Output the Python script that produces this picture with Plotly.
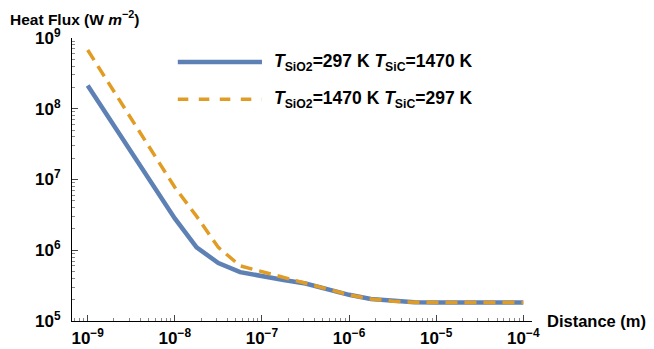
"""
Flujo de calor vs distancia (escala log-log)
"""

import plotly.graph_objects as go

# distancia: 4 puntos por década, de 1e-9 a 1e-4 m
exponentes = [-9 + k / 4 for k in range(21)]
distancia = [10 ** e for e in exponentes]

# log10 del flujo de calor
log_flujo_sio2_frio = [8.33, 7.86, 7.39, 6.92, 6.45, 6.04, 5.82, 5.69, 5.63, 5.58,
                       5.53, 5.45, 5.37, 5.31, 5.28, 5.265, 5.26, 5.26, 5.26, 5.26, 5.26]
log_flujo_sio2_caliente = [8.83, 8.34, 7.86, 7.37, 6.89, 6.48, 6.04, 5.78, 5.70, 5.61,
                           5.54, 5.45, 5.37, 5.31, 5.28, 5.265, 5.26, 5.26, 5.26, 5.26, 5.26]

flujo_sio2_frio = [10 ** v for v in log_flujo_sio2_frio]
flujo_sio2_caliente = [10 ** v for v in log_flujo_sio2_caliente]

etiquetas = ['<i>T</i><sub>SiO2</sub>=297 K <i>T</i><sub>SiC</sub>=1470 K',
             '<i>T</i><sub>SiO2</sub>=1470 K <i>T</i><sub>SiC</sub>=297 K']

x_ticks = [1e-9, 1e-8, 1e-7, 1e-6, 1e-5, 1e-4]
x_ticktext = ['10<sup>−9</sup>', '10<sup>−8</sup>', '10<sup>−7</sup>',
              '10<sup>−6</sup>', '10<sup>−5</sup>', '10<sup>−4</sup>']
y_ticks = [1e5, 1e6, 1e7, 1e8, 1e9]
y_ticktext = ['10<sup>5</sup>', '10<sup>6</sup>', '10<sup>7</sup>',
              '10<sup>8</sup>', '10<sup>9</sup>']

AZUL = '#5E81B5'
NARANJA = '#E19C24'
FUENTE = dict(family='Liberation Sans', size=17, color='black', weight='bold')
FUENTE_LEY = dict(FUENTE, size=17.5)

fig = go.Figure()

fig.add_trace(go.Scatter(
    x=distancia, y=flujo_sio2_frio, mode='lines', name=etiquetas[0],
    line=dict(color=AZUL, width=4.5)
))
fig.add_trace(go.Scatter(
    x=distancia, y=flujo_sio2_caliente, mode='lines', name=etiquetas[1],
    line=dict(color=NARANJA, width=3.5, dash='12px,7px')
))

eje = dict(
    type='log', showgrid=False, zeroline=False, showline=True, automargin=False,
    linecolor='black', linewidth=1, ticks='inside', ticklen=6,
    tickcolor='#444', tickfont=FUENTE,
    minor=dict(ticks='inside', ticklen=3, tickcolor='#888', dtick='D1'),
)

fig.update_xaxes(eje, range=[-9.18, -3.9], tickvals=x_ticks, ticktext=x_ticktext,
                 ticklabelstandoff=2)
fig.update_yaxes(eje, range=[5, 9.0], tickvals=y_ticks, ticktext=y_ticktext,
                 ticklabelstandoff=7)

# leyenda dibujada a mano (muestras de línea largas)
for i, (color, dash, ancho) in enumerate([(AZUL, 'solid', 4.5), (NARANJA, 'dash', 3.5)]):
    yy = [0.915, 0.784][i]
    fig.add_shape(type='line', xref='paper', yref='paper',
                  x0=0.230, x1=0.413, y0=yy, y1=yy,
                  line=dict(color=color, width=ancho, dash=dash))
    fig.add_annotation(xref='paper', yref='paper', x=0.435, y=yy,
                       xanchor='left', yanchor='middle', showarrow=False,
                       text=etiquetas[i], font=FUENTE_LEY)

fig.add_annotation(xref='paper', yref='paper', x=-0.139, y=1.071,
                   xanchor='left', yanchor='middle', showarrow=False,
                   text='Heat Flux (W <i>m</i><sup>−2</sup>)', font=dict(FUENTE, size=15.5))
fig.add_annotation(xref='paper', yref='paper', x=1.029, y=0.0,
                   xanchor='left', yanchor='middle', showarrow=False,
                   text='Distance (m)', font=dict(FUENTE, size=16.5))

# la página deja 8 px de margen: el lienzo se reduce para que quepa en 654x349
fig.update_layout(
    width=646, height=341,
    margin=dict(l=64, r=122, t=30, b=28),
    paper_bgcolor='white', plot_bgcolor='white',
    showlegend=False,
)

fig.write_html("out.html")
